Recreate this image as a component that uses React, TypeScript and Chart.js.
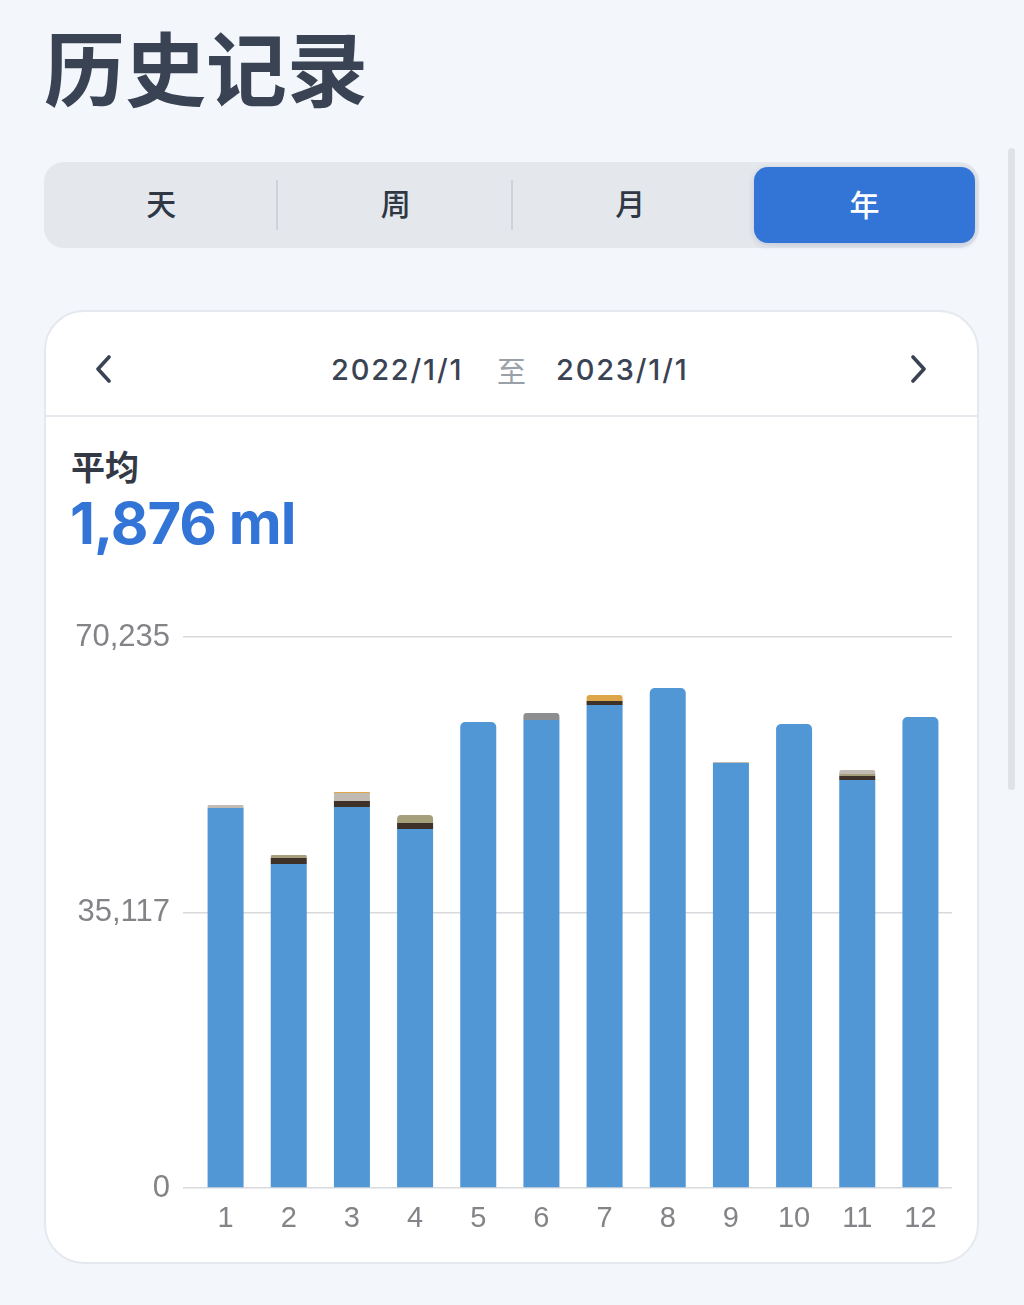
import React, { useEffect, useRef } from "react";
import { Chart, registerables } from "chart.js";

Chart.register(...registerables);

const months = ["1", "2", "3", "4", "5", "6", "7", "8", "9", "10", "11", "12"];
const yTicks = [0, 35117, 70235];
const yMax = 70235;

const water = [48440, 41300, 48565, 45760, 59400, 59655, 61570, 63735, 54175, 59150, 52010, 60040];
const coffee = [0, 765, 765, 765, 0, 0, 510, 0, 0, 0, 510, 0];
const tea = [0, 380, 0, 1020, 0, 0, 0, 0, 0, 0, 255, 0];
const milk = [0, 0, 0, 0, 0, 890, 0, 0, 0, 0, 0, 0];
const other = [380, 0, 1020, 0, 0, 0, 0, 0, 130, 0, 510, 0];
const juice = [0, 0, 127, 0, 0, 0, 765, 0, 0, 0, 0, 0];

const seriesNames = ["水", "咖啡", "茶", "牛奶", "其他", "果汁"];
const seriesColors = ["#5197d6", "#3d3129", "#a69f7c", "#8d8e90", "#c2bbb3", "#dea64b"];

const CJK = '"Noto Sans CJK SC", "Noto Sans", sans-serif';
const TICK_FONT = '"Liberation Sans", Arial, sans-serif';

function BarChart() {
  const ref = useRef<HTMLCanvasElement | null>(null);
  useEffect(() => {
    if (!ref.current) return;
    const all = [water, coffee, tea, milk, other, juice];
    const chart = new Chart(ref.current, {
      type: "bar",
      data: {
        labels: months,
        datasets: all.map((d, i) => ({
          label: seriesNames[i],
          data: d,
          backgroundColor: seriesColors[i],
          borderRadius: 5,
          borderSkipped: "start" as const,
          barPercentage: 0.57,
          categoryPercentage: 1,
        })),
      },
      options: {
        animation: false,
        responsive: false,
        maintainAspectRatio: false,
        layout: { padding: { top: 47, right: 27, left: 0, bottom: 0 } },
        plugins: { legend: { display: false }, tooltip: { enabled: false } },
        scales: {
          x: {
            stacked: true,
            grid: { display: false, drawTicks: false },
            border: { display: false },
            ticks: {
              color: "#838388",
              font: { family: TICK_FONT, size: 29, weight: 400 as any },
              padding: 14,
              maxRotation: 0,
              autoSkip: false,
            },
            afterFit: (s: any) => {
              s.height = 62;
            },
          },
          y: {
            stacked: true,
            min: 0,
            max: yMax,
            grid: { color: "#d8d9dc", lineWidth: 1.5, drawTicks: true, tickLength: 11, tickColor: "#d8d9dc" },
            border: { display: false },
            ticks: {
              color: "#838388",
              font: { family: TICK_FONT, size: 31, weight: 400 as any },
              padding: 13,
              callback: (v: any) => Number(v).toLocaleString("en-US"),
            },
            afterBuildTicks: (s: any) => {
              s.ticks = yTicks.map((v) => ({ value: v }));
            },
            afterFit: (s: any) => {
              s.width = 150;
            },
          },
        },
      },
    });
    return () => chart.destroy();
  }, []);
  return (
    <canvas
      ref={ref}
      width={935}
      height={660}
      style={{ position: "absolute", left: 44, top: 590, width: 935, height: 660 }}
    />
  );
}

function Chevron({ left, dir }: { left: number; dir: "l" | "r" }) {
  const pts = dir === "l" ? "14,2 3,14 14,26" : "3,2 14,14 3,26";
  return (
    <svg width={18} height={28} style={{ position: "absolute", left, top: 355 }}>
      <polyline points={pts} fill="none" stroke="#3a4354" strokeWidth={3.6} strokeLinecap="round" strokeLinejoin="round" />
    </svg>
  );
}

export default function App() {
  const segs = ["天", "周", "月"];
  const dateStyle: React.CSSProperties = {
    position: "absolute",
    top: 0,
    fontFamily: 'Inter, "Noto Sans", sans-serif',
    fontSize: 29,
    fontWeight: 500,
    letterSpacing: 1.8,
    color: "#3a4354",
  };
  return (
    <div
      style={{
        position: "absolute",
        left: 0,
        top: 0,
        width: 1024,
        height: 1305,
        background: "#f3f6fb",
        overflow: "hidden",
        fontFamily: CJK,
      }}
    >
      <div
        style={{
          position: "absolute",
          left: 44,
          top: 15,
          fontSize: 81,
          fontWeight: 700,
          color: "#3a4354",
          lineHeight: "100px",
        }}
      >
        历史记录
      </div>

      {/* segmented control */}
      <div
        style={{
          position: "absolute",
          left: 44,
          top: 162,
          width: 935,
          height: 86,
          background: "#e4e7ec",
          borderRadius: 20,
        }}
      />
      {segs.map((s, i) => (
        <div
          key={s}
          style={{
            position: "absolute",
            left: 44 + i * 234.5,
            top: 159,
            width: 234.5,
            height: 86,
            lineHeight: "86px",
            textAlign: "center",
            fontSize: 30,
            fontWeight: 500,
            color: "#2f3744",
          }}
        >
          {s}
        </div>
      ))}
      {[277, 512].map((x) => (
        <div key={x} style={{ position: "absolute", left: x - 1, top: 180, width: 2, height: 50, background: "#cfd3d9" }} />
      ))}
      <div
        style={{
          position: "absolute",
          left: 754,
          top: 167,
          width: 221,
          height: 76,
          background: "#3375d6",
          borderRadius: 14,
          boxShadow: "0 2px 6px rgba(40,60,120,0.18)",
          color: "#ffffff",
          fontSize: 30,
          fontWeight: 500,
          textAlign: "center",
          lineHeight: "72px",
        }}
      >
        年
      </div>

      {/* scrollbar */}
      <div style={{ position: "absolute", left: 1008, top: 148, width: 7, height: 642, background: "#e0e2e7", borderRadius: 4 }} />

      {/* card */}
      <div
        style={{
          position: "absolute",
          left: 44,
          top: 310,
          width: 935,
          height: 954,
          background: "#ffffff",
          borderRadius: 40,
          border: "2px solid #e5e9ef",
          boxSizing: "border-box",
        }}
      />
      <div style={{ position: "absolute", left: 46, top: 415, width: 931, height: 2, background: "#e6e9ee" }} />
      <Chevron left={95} dir="l" />
      <Chevron left={910} dir="r" />
      <div style={{ position: "absolute", left: 0, top: 350, width: 1024, height: 40, lineHeight: "40px", whiteSpace: "pre" }}>
        <span style={{ ...dateStyle, left: 331 }}>2022/1/1</span>
        <span style={{ ...dateStyle, left: 497, fontFamily: CJK, fontWeight: 400, color: "#9aa0a8", letterSpacing: 0 }}>至</span>
        <span style={{ ...dateStyle, left: 556 }}>2023/1/1</span>
      </div>

      <div
        style={{
          position: "absolute",
          left: 71,
          top: 444,
          fontSize: 34,
          fontWeight: 600,
          color: "#333a45",
          lineHeight: "44px",
        }}
      >
        平均
      </div>
      <div
        style={{
          position: "absolute",
          left: 70,
          top: 488,
          fontSize: 58,
          fontWeight: 700,
          color: "#3375d6",
          lineHeight: "70px",
          fontFamily: 'Inter, "Noto Sans", sans-serif',
          letterSpacing: -1,
        }}
      >
        1,876 ml
      </div>

      <BarChart />
    </div>
  );
}
